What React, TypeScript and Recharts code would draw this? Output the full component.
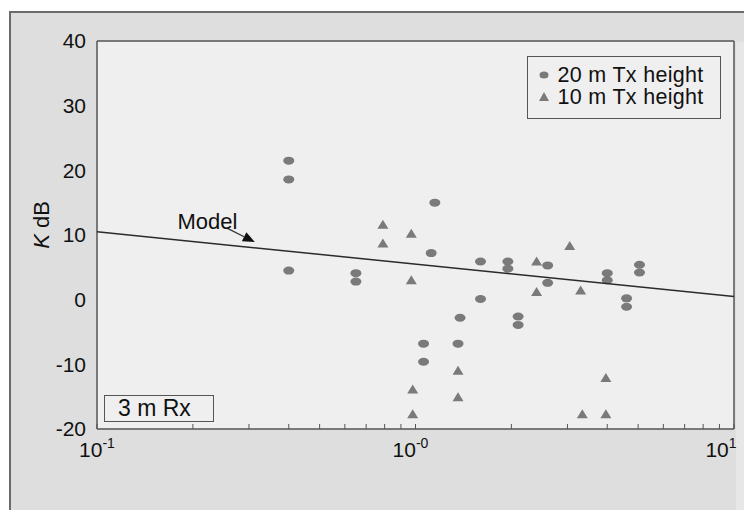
import {
  CartesianGrid,
  Label,
  Legend,
  ReferenceLine,
  Scatter,
  ScatterChart,
  XAxis,
  YAxis,
} from 'recharts';

// distance (km) and K factor (dB)
const tx20Dist = [0.4, 0.4, 0.4, 0.65, 0.65, 1.06, 1.06, 1.12, 1.15, 1.36, 1.38, 1.6, 1.6, 1.95, 1.95, 2.1, 2.1, 2.6, 2.6, 4.0, 4.0, 4.6, 4.6, 5.05, 5.05];
const tx20K = [21.5, 18.6, 4.5, 4.1, 2.8, -6.8, -9.6, 7.2, 15.0, -6.8, -2.8, 5.9, 0.1, 5.9, 4.8, -2.6, -3.9, 5.3, 2.6, 4.1, 3.0, 0.2, -1.1, 5.4, 4.2];

const tx10Dist = [0.79, 0.79, 0.97, 0.97, 0.98, 0.98, 1.36, 1.36, 2.4, 2.4, 3.05, 3.3, 3.34, 3.96, 3.96];
const tx10K = [11.6, 8.7, 10.2, 3.0, -13.9, -17.7, -11.0, -15.1, 5.9, 1.2, 8.3, 1.4, -17.7, -12.1, -17.7];

const modelDist = [0.1, 10];
const modelK = [10.5, 0.5];

// arrow pointing at the model line: start, tip
const arrowDist = [0.255, 0.313];
const arrowK = [11.1, 8.9];

const xTicks = [0.1, 0.2, 0.3, 0.4, 0.5, 0.6, 0.7, 0.8, 0.9, 1, 2, 3, 4, 5, 6, 7, 8, 9, 10];
const xMajor = [0.1, 1, 10];
const xExponents = ['-1', '-0', '1'];
const yTicks = [-20, -10, 0, 10, 20, 30, 40];
const legendNames = ['20 m Tx height', '10 m Tx height'];

const FONT = '"Liberation Sans", Arial, sans-serif';
const MARK = '#7a7a7a';
const AXIS = '#555';

const zip = (xs: number[], ys: number[]) => xs.map((d, i) => ({ d, k: ys[i] }));
const tx20 = zip(tx20Dist, tx20K);
const tx10 = zip(tx10Dist, tx10K);
const model = zip(modelDist, modelK);

const Dot = ({ cx, cy }: any) => <ellipse cx={cx} cy={cy} rx={5.5} ry={4} fill={MARK} />;
const Tri = ({ cx, cy }: any) => (
  <polygon points={`${cx},${cy - 5} ${cx + 5.5},${cy + 4} ${cx - 5.5},${cy + 4}`} fill={MARK} />
);

const labelNudge = [0, -5, -13];
const XTick = ({ x, y, payload }: any) => {
  const i = xMajor.indexOf(payload.value);
  if (i < 0) return <g />;
  return (
    <text x={x + labelNudge[i]} y={y + 33} textAnchor="middle" fontFamily={FONT} fontSize={21} fill="#111">
      10
      <tspan dy={-9} fontSize={14}>
        {xExponents[i]}
      </tspan>
    </text>
  );
};

const ModelArrow = ({ x1, y1, x2, y2 }: any) => {
  const ang = Math.atan2(y2 - y1, x2 - x1);
  const len = 12;
  const bx = x2 - len * Math.cos(ang);
  const by = y2 - len * Math.sin(ang);
  const px = 5 * Math.sin(ang);
  const py = -5 * Math.cos(ang);
  return (
    <g>
      <line x1={x1} y1={y1} x2={bx} y2={by} stroke="#333" strokeWidth={1.3} />
      <polygon points={`${x2},${y2} ${bx + px},${by + py} ${bx - px},${by - py}`} fill="#111" />
      <text x={x1 + 11} y={y1 + 1} textAnchor="end" fontFamily={FONT} fontSize={22} fill="#111">
        Model
      </text>
    </g>
  );
};

const LegendBox = () => (
  <div
    style={{
      width: 194,
      height: 63,
      boxSizing: 'border-box',
      border: `1.5px solid ${AXIS}`,
      background: '#efefef',
      padding: '7px 0 0 7.5px',
      fontFamily: FONT,
      fontSize: 21.5,
      color: '#111',
      textAlign: 'left',
    }}
  >
    {legendNames.map((name, i) => (
      <div key={name} style={{ display: 'flex', alignItems: 'center', height: 22, overflow: 'visible' }}>
        <svg width={16} height={14} style={{ marginRight: 6 }}>
          {i === 0 ? (
            <ellipse cx={8} cy={7} rx={4.5} ry={3.5} fill={MARK} />
          ) : (
            <polygon points="8,2 13,11 3,11" fill={MARK} />
          )}
        </svg>
        <span style={{ whiteSpace: 'nowrap', lineHeight: '20px', letterSpacing: 0.3 }}>{name}</span>
      </div>
    ))}
  </div>
);

const YTitle = ({ viewBox }: any) => {
  const cx = viewBox.x + 33;
  const cy = viewBox.y + viewBox.height / 2 - 10;
  return (
    <text x={cx} y={cy} transform={`rotate(-90, ${cx}, ${cy})`} textAnchor="middle" dominantBaseline="central" fontFamily={FONT} fontSize={22} fill="#111">
      <tspan fontStyle="italic">K</tspan> dB
    </text>
  );
};

export default function App() {
  return (
    <div style={{ position: 'relative', width: 744, height: 502, background: '#fff', overflow: 'hidden' }}>
      <div
        style={{
          position: 'absolute',
          left: 1,
          top: 3,
          width: 800,
          height: 560,
          background: '#dedede',
          borderLeft: '2px solid #6b6b6b',
          borderTop: '2px solid #6b6b6b',
        }}
      />
      <div style={{ position: 'absolute', left: 728, top: 34, width: 16, height: 480, background: '#e7e7e7' }} />
      <ScatterChart
        width={744}
        height={502}
        margin={{ top: 33, right: 17, bottom: 81, left: 0 }}
        style={{ position: 'absolute', left: 0, top: 0 }}
      >
        <CartesianGrid horizontal={false} vertical={false} fill="#efefef" />
        <XAxis
          dataKey="d"
          type="number"
          scale="log"
          domain={[0.1, 10]}
          allowDataOverflow
          ticks={xTicks}
          interval={0}
          height={1}
          mirror
          tickSize={5}
          tickMargin={0}
          tick={<XTick />}
          tickLine={{ stroke: AXIS }}
          axisLine={{ stroke: AXIS, strokeWidth: 1.5 }}
        />
        <XAxis
          xAxisId="top"
          orientation="top"
          type="number"
          scale="log"
          domain={[0.1, 10]}
          allowDataOverflow
          ticks={xTicks}
          interval={0}
          height={1}
          mirror
          tickSize={5}
          tick={false}
          tickLine={{ stroke: AXIS }}
          axisLine={{ stroke: AXIS, strokeWidth: 1.5 }}
        />
        <YAxis
          dataKey="k"
          type="number"
          domain={[-20, 40]}
          ticks={yTicks}
          interval={0}
          width={89}
          tickSize={0}
          tickMargin={11}
          tickLine={false}
          tick={{ fill: '#111', fontSize: 21, fontFamily: FONT }}
          axisLine={{ stroke: AXIS, strokeWidth: 1.5 }}
        >
          <Label content={<YTitle />} />
        </YAxis>
        <YAxis
          yAxisId="right"
          orientation="right"
          type="number"
          domain={[-20, 40]}
          width={1}
          tick={false}
          tickLine={false}
          axisLine={{ stroke: AXIS, strokeWidth: 1.5 }}
        />
        <Scatter name="20 m Tx height" data={tx20} shape={<Dot />} isAnimationActive={false} />
        <Scatter name="10 m Tx height" data={tx10} shape={<Tri />} isAnimationActive={false} />
        <Scatter
          name="Model"
          data={model}
          line={{ stroke: '#2a2a2a', strokeWidth: 1.5 }}
          shape={() => <g />}
          legendType="none"
          isAnimationActive={false}
        />
        <ReferenceLine
          segment={[
            { x: arrowDist[0], y: arrowK[0] },
            { x: arrowDist[1], y: arrowK[1] },
          ]}
          shape={<ModelArrow />}
          ifOverflow="visible"
        />
        <Legend
          layout="horizontal"
          verticalAlign="middle"
          align="center"
          content={<LegendBox />}
          wrapperStyle={{ left: 519, top: 48, width: 194, height: 63 }}
        />
      </ScatterChart>
      <div
        style={{
          position: 'absolute',
          left: 96,
          top: 387,
          width: 110,
          height: 27,
          boxSizing: 'border-box',
          border: `1.5px solid ${AXIS}`,
          background: '#efefef',
          fontFamily: FONT,
          fontSize: 23,
          lineHeight: '24px',
          paddingLeft: 13,
          color: '#111',
        }}
      >
        3 m Rx
      </div>
    </div>
  );
}
